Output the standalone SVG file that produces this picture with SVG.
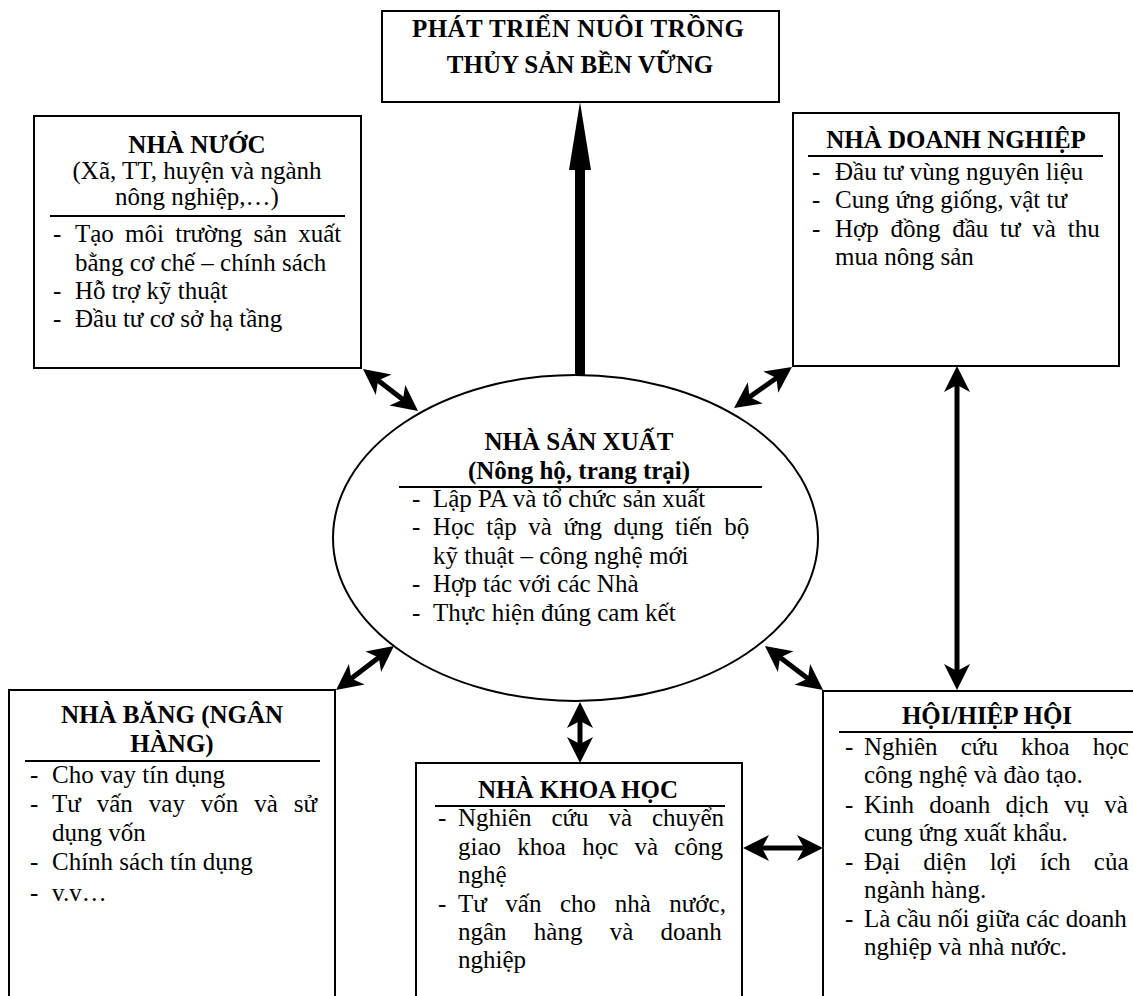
<svg xmlns="http://www.w3.org/2000/svg" width="1133" height="996" viewBox="0 0 1133 996">
<style>
text{font-family:"Liberation Serif","Times New Roman",serif;font-size:25px;fill:#000}
.b{font-weight:bold}
.c{text-anchor:middle}
.box{fill:#fff;stroke:#000;stroke-width:2}
.sep{stroke:#000;stroke-width:2}
.con{stroke:#000;stroke-width:5;fill:none;marker-start:url(#ah);marker-end:url(#ah)}
</style>
<defs>
<marker id="ah" markerUnits="userSpaceOnUse" markerWidth="32" markerHeight="32" viewBox="-16 -16 32 32" refX="0" refY="0" orient="auto-start-reverse">
<path d="M15,0 L-11,-13 L-4,0 L-11,13 Z" fill="#000"/>
</marker>
</defs>
<rect width="1133" height="996" fill="#fff"/>

<g id="top">
<rect class="box" x="382" y="11" width="397" height="91"/>
<text class="b c" x="578" y="37" textLength="332" lengthAdjust="spacing">PHÁT TRIỂN NUÔI TRỒNG</text>
<text class="b c" x="580" y="73">THỦY SẢN BỀN VỮNG</text>
</g>

<g id="nha-nuoc">
<rect class="box" x="34" y="116" width="327" height="252"/>
<text class="b c" x="197" y="153">NHÀ NƯỚC</text>
<text class="c" x="197" y="179">(Xã, TT, huyện và ngành</text>
<text class="c" x="197" y="205">nông nghiệp,…)</text>
<line class="sep" x1="50" y1="216" x2="345" y2="216"/>
<text x="53" y="242">-</text><text x="75" y="242" word-spacing="5">Tạo môi trường sản xuất</text>
<text x="75" y="271">bằng cơ chế – chính sách</text>
<text x="53" y="299">-</text><text x="75" y="299">Hỗ trợ kỹ thuật</text>
<text x="53" y="327">-</text><text x="75" y="327">Đầu tư cơ sở hạ tầng</text>
</g>

<g id="nha-doanh-nghiep">
<rect class="box" x="793" y="113" width="326" height="253"/>
<text class="b c" x="956" y="148">NHÀ DOANH NGHIỆP</text>
<line class="sep" x1="808" y1="156" x2="1103" y2="156"/>
<text x="812" y="180">-</text><text x="835" y="180">Đầu tư vùng nguyên liệu</text>
<text x="812" y="208">-</text><text x="835" y="208">Cung ứng giống, vật tư</text>
<text x="812" y="237">-</text><text x="835" y="237" word-spacing="5.5">Hợp đồng đầu tư và thu</text>
<text x="835" y="265">mua nông sản</text>
</g>

<g id="nha-san-xuat">
<ellipse class="box" cx="575.5" cy="538" rx="242.5" ry="163"/>
<text class="b c" x="579" y="450">NHÀ SẢN XUẤT</text>
<text class="b c" x="579" y="479">(Nông hộ, trang trại)</text>
<line class="sep" x1="399" y1="487" x2="762" y2="487"/>
<text x="412" y="507">-</text><text x="433" y="507">Lập PA và tổ chức sản xuất</text>
<text x="412" y="535">-</text><text x="433" y="535" word-spacing="5.3">Học tập và ứng dụng tiến bộ</text>
<text x="433" y="564">kỹ thuật – công nghệ mới</text>
<text x="412" y="592">-</text><text x="433" y="592">Hợp tác với các Nhà</text>
<text x="412" y="621">-</text><text x="433" y="621">Thực hiện đúng cam kết</text>
</g>

<g id="nha-bang">
<rect class="box" x="9" y="690" width="326" height="320"/>
<text class="b c" x="172" y="723">NHÀ BĂNG (NGÂN</text>
<text class="b c" x="172" y="752">HÀNG)</text>
<line class="sep" x1="25" y1="761" x2="320" y2="761"/>
<text x="30" y="783">-</text><text x="52" y="783">Cho vay tín dụng</text>
<text x="30" y="812">-</text><text x="52" y="812" word-spacing="9.7">Tư vấn vay vốn và sử</text>
<text x="52" y="841">dụng vốn</text>
<text x="30" y="870">-</text><text x="52" y="870">Chính sách tín dụng</text>
<text x="30" y="901">-</text><text x="52" y="901">v.v…</text>
</g>

<g id="nha-khoa-hoc">
<rect class="box" x="416" y="763" width="326" height="250"/>
<text class="b c" x="578" y="798">NHÀ KHOA HỌC</text>
<line class="sep" x1="435" y1="806" x2="725" y2="806"/>
<text x="438" y="826">-</text><text x="458" y="826" word-spacing="13.6">Nghiên cứu và chuyển</text>
<text x="458" y="855" word-spacing="10">giao khoa học và công</text>
<text x="458" y="883">nghệ</text>
<text x="438" y="912">-</text><text x="458" y="912" word-spacing="12.3">Tư vấn cho nhà nước,</text>
<text x="458" y="940" word-spacing="21">ngân hàng và doanh</text>
<text x="458" y="968">nghiệp</text>
</g>

<g id="hoi-hiep-hoi">
<rect class="box" x="823" y="691" width="400" height="320"/>
<text class="b c" x="987" y="724">HỘI/HIỆP HỘI</text>
<line class="sep" x1="839" y1="732" x2="1140" y2="732"/>
<text x="845" y="755">-</text><text x="864" y="755" word-spacing="16.9">Nghiên cứu khoa học</text>
<text x="864" y="783">công nghệ và đào tạo.</text>
<text x="845" y="813">-</text><text x="864" y="813" word-spacing="9">Kinh doanh dịch vụ và</text>
<text x="864" y="841">cung ứng xuất khẩu.</text>
<text x="845" y="870">-</text><text x="864" y="870" word-spacing="17">Đại diện lợi ích của</text>
<text x="864" y="898">ngành hàng.</text>
<text x="845" y="927">-</text><text x="864" y="927">Là cầu nối giữa các doanh</text>
<text x="864" y="955">nghiệp và nhà nước.</text>
</g>

<g id="connectors">
<polygon points="575,375 575,170 569,170 580,102 591,170 585,170 585,375" fill="#000"/>
<line class="con" x1="374.9" y1="378.1" x2="406.1" y2="401.9"/>
<line class="con" x1="779.7" y1="375.7" x2="746.3" y2="399.3"/>
<line class="con" x1="957" y1="381" x2="957" y2="675"/>
<line class="con" x1="382" y1="655.1" x2="348" y2="680.9"/>
<line class="con" x1="776.9" y1="655.1" x2="811.1" y2="680.9"/>
<line class="con" x1="580" y1="717" x2="580" y2="748"/>
<line class="con" x1="758" y1="848" x2="808" y2="848"/>
</g>
</svg>
